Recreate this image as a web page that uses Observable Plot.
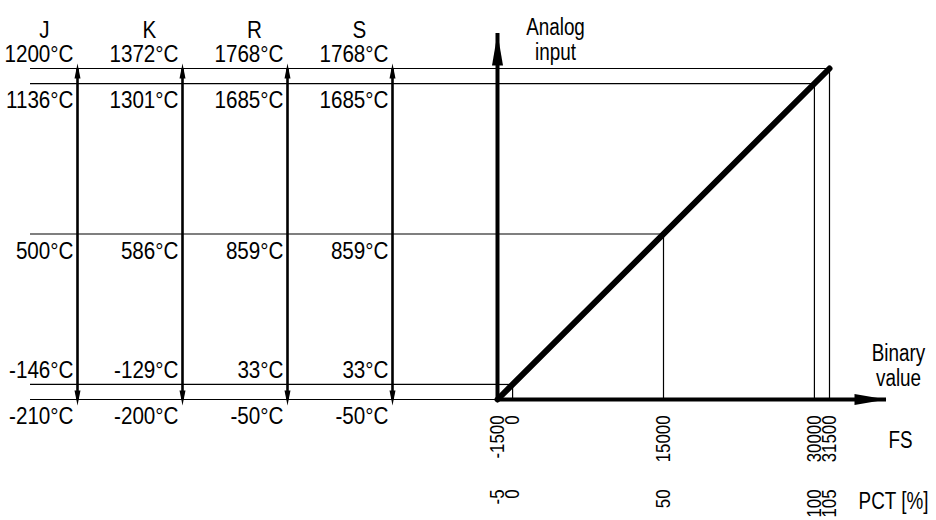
<!DOCTYPE html>
<html><head><meta charset="utf-8">
<script src="https://cdn.jsdelivr.net/npm/d3@7"></script>
<script src="https://cdn.jsdelivr.net/npm/@observablehq/plot@0.6"></script>
<style>
html,body{margin:0;padding:0;background:#fff;}
#chart{position:relative;width:936px;height:520px;overflow:hidden;background:#fff;}
#chart svg{position:absolute;left:0;top:0;background:transparent;}
</style></head><body><div id="chart"></div>
<script>
// ---- data ----
const types = ["J", "K", "R", "S"];
const fsLevels = [31500, 30000, 15000, 0, -1500];
const tempJ = [1200, 1136, 500, -146, -210];
const tempK = [1372, 1301, 586, -129, -200];
const tempR = [1768, 1685, 859, 33, -50];
const tempS = [1768, 1685, 859, 33, -50];
const fsTicks = [-1500, 0, 15000, 30000, 31500];
const pctTicks = [-5, 0, 50, 100, 105];
const axisTitleY = "Analog\ninput";
const axisTitleX = "Binary\nvalue";
const fsTitle = "FS";
const pctTitle = "PCT [%]";

// ---- build tables ----
const temps = {J: tempJ, K: tempK, R: tempR, S: tempS};
const tempTable = types.flatMap(t => temps[t].map((v, i) => ({type: t, fs: fsLevels[i], temp: v, idx: i})));
const labelAbove = d => d.fs === fsLevels[0] || d.fs === 0;
const fsMin = fsTicks[0], fsMax = fsTicks[fsTicks.length - 1];

const font = "'Liberation Sans Narrow', 'Arial Narrow', 'Liberation Sans', Arial, sans-serif";
const yScale = {domain: [fsMin, fsMax], range: [399, 68], axis: null};

// arrowhead symbols (tip at origin)
const headUp = (w, l) => ({draw(c) { c.moveTo(0, 0); c.lineTo(w / 2, l); c.lineTo(-w / 2, l); c.closePath(); }});
const headDown = (w, l) => ({draw(c) { c.moveTo(0, 0); c.lineTo(w / 2, -l); c.lineTo(-w / 2, -l); c.closePath(); }});
const headRight = (l, w) => ({draw(c) { c.moveTo(0, 0); c.lineTo(-l, w / 2); c.lineTo(-l, -w / 2); c.closePath(); }});

const left = Plot.plot({
  width: 497, height: 520,
  marginLeft: 30, marginRight: 0, marginTop: 0, marginBottom: 0,
  x: {type: "point", domain: types, range: [76, 392], padding: 0, axis: null},
  y: yScale,
  style: {fontFamily: font, background: "transparent", overflow: "visible", color: "black"},
  marks: [
    Plot.ruleY(fsLevels, {y: d => d, stroke: "black", strokeWidth: 1.2}),
    Plot.ruleX(types, {x: d => d, y1: fsMin, y2: fsMax, stroke: "black", strokeWidth: 2.6}),
    Plot.dot(types, {x: d => d, y: fsMax, dy: -5, symbol: headUp(6, 15), fill: "black", stroke: "none"}),
    Plot.dot(types, {x: d => d, y: fsMin, dy: 6, symbol: headDown(6, 15), fill: "black", stroke: "none"}),
    Plot.text(tempTable.filter(labelAbove), {x: "type", y: "fs", text: d => `${d.temp}°C`, textAnchor: "end", dx: -4, dy: -14, fontSize: 24, fill: "black"}),
    Plot.text(tempTable.filter(d => !labelAbove(d)), {x: "type", y: "fs", text: d => `${d.temp}°C`, textAnchor: "end", dx: -4, dy: 17, fontSize: 24, fill: "black"}),
    Plot.text(types, {x: d => d, text: d => d, frameAnchor: "top", dx: -33, dy: 20, textAnchor: "middle", fontSize: 24, fill: "black"})
  ]
});

const right = Plot.plot({
  width: 936, height: 520,
  marginLeft: 497, marginRight: 50, marginTop: 33, marginBottom: 121,
  x: {domain: [fsMin, fsMax], range: [497, 829], axis: null},
  y: yScale,
  style: {fontFamily: font, background: "transparent", overflow: "visible", color: "black"},
  marks: [
    Plot.ruleY(fsLevels.slice(0, 4), {y: d => d, x1: fsMin, x2: d => d, stroke: "black", strokeWidth: 1.2}),
    Plot.ruleX(fsTicks.slice(1), {x: d => d, y1: fsMin, y2: d => d, stroke: "black", strokeWidth: 1.2}),
    Plot.line([fsMin, fsMax], {x: d => d, y: d => d, stroke: "black", strokeWidth: 6, strokeLinecap: "round"}),
    Plot.ruleX([fsMin], {x: d => d, stroke: "black", strokeWidth: 4}),
    Plot.ruleY([fsMin], {y: d => d, stroke: "black", strokeWidth: 4}),
    Plot.dot([fsMin], {x: d => d, frameAnchor: "top", symbol: headUp(11, 32), fill: "black", stroke: "none"}),
    Plot.dot([fsMin], {y: d => d, frameAnchor: "right", symbol: headRight(32, 11), fill: "black", stroke: "none"}),
    Plot.text(fsTicks, {x: d => d, text: d => String(d), frameAnchor: "bottom", dy: 16, rotate: -90, textAnchor: "end", lineAnchor: "middle", fontSize: 21, fill: "black"}),
    Plot.text(pctTicks, {x: (d, i) => fsTicks[i], text: d => String(d), frameAnchor: "bottom", dy: 90, rotate: -90, textAnchor: "end", lineAnchor: "middle", fontSize: 21, fill: "black"}),
    Plot.text([axisTitleY], {text: d => d, frameAnchor: "top-left", dx: 58, dy: -16, textAnchor: "middle", lineAnchor: "top", lineHeight: 1.08, fontSize: 23, fill: "black"}),
    Plot.text([axisTitleX], {text: d => d, frameAnchor: "bottom-right", dx: 12, dy: -56, textAnchor: "middle", lineAnchor: "top", lineHeight: 1.08, fontSize: 23, fill: "black"}),
    Plot.text([fsTitle], {text: d => d, frameAnchor: "bottom-right", dx: 14, dy: 41, textAnchor: "middle", lineAnchor: "middle", fontSize: 23, fill: "black"}),
    Plot.text([pctTitle], {text: d => d, frameAnchor: "bottom-right", dx: 7, dy: 102, textAnchor: "middle", lineAnchor: "middle", fontSize: 23, fill: "black"})
  ]
});

const chart = document.getElementById("chart");
chart.appendChild(left);
chart.appendChild(right);

// emulate a narrow (condensed) face when no narrow font is installed
const narrowAvailable = (() => {
  const c = document.createElement("canvas").getContext("2d");
  c.font = "22px 'Liberation Sans Narrow', monospace"; const a = c.measureText("1200C").width;
  c.font = "22px 'Liberation Sans', monospace"; const b = c.measureText("1200C").width;
  return a < b * 0.9;
})();
const squeeze = {"24px": 0.86, "23px": 0.82, "21px": 0.8};
if (!narrowAvailable) {
  chart.querySelectorAll("text").forEach(t => {
    const f = squeeze[getComputedStyle(t).fontSize] || 0.82;
    const spans = t.querySelectorAll("tspan");
    const els = spans.length ? Array.from(spans) : [t];
    els.forEach(el => {
      const w = el.getComputedTextLength();
      if (w > 0) {
        el.setAttribute("textLength", (w * f).toFixed(2));
        el.setAttribute("lengthAdjust", "spacingAndGlyphs");
      }
    });
  });
}
</script>
</body></html>
